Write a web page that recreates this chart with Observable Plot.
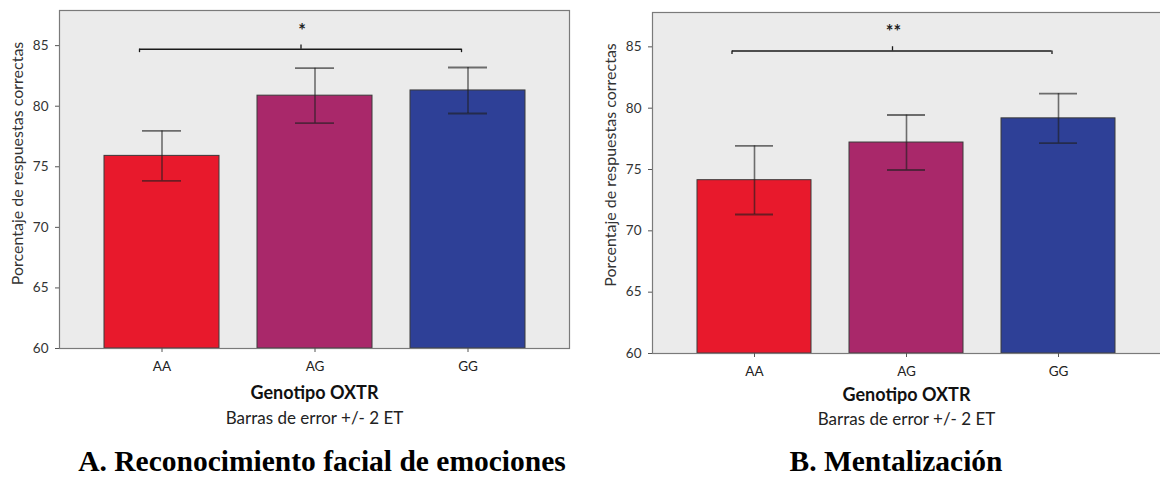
<!DOCTYPE html>
<html>
<head>
<meta charset="utf-8">
<script src="https://cdn.jsdelivr.net/npm/d3@7"></script>
<script src="https://cdn.jsdelivr.net/npm/@observablehq/plot@0.6"></script>
<style>
  body { margin: 0; background: #fff; overflow: hidden; }
  #fig { display: flex; width: 1160px; }
  .panel { width: 580px; flex: none; }
  .panel svg { display: block; overflow: hidden; }
  .cap {
    font-family: "Liberation Serif", "Times New Roman", serif;
    font-weight: bold;
    font-size: 29.5px;
    line-height: 34px;
    text-align: center;
    color: #000;
    margin-top: 4px;
    white-space: nowrap;
  }
</style>
</head>
<body>
<div id="fig"></div>
<script>
// Genotipos OXTR y colores de cada barra
const genotipos = ["AA", "AG", "GG"];
const colores = ["#e8192c", "#a9286a", "#2e4097"];

// A. Reconocimiento facial de emociones: media y ±2 ET
const reconocimientoMedia = [75.9, 80.87, 81.3];
const reconocimientoET2 = [2.06, 2.27, 1.9];

// B. Mentalización: media y ±2 ET
const mentalizacionMedia = [74.13, 77.2, 79.17];
const mentalizacionET2 = [2.8, 2.24, 2.02];

// Comparación AA vs GG (altura de la llave y marca de significación)
const sigReconocimiento = {y: 84.7, text: "*"};
const sigMentalizacion = {y: 84.66, text: "**"};

const yTicks = [60, 65, 70, 75, 80, 85];
const yLabel = "Porcentaje de respuestas correctas";
const xLabel = "Genotipo OXTR";
const nota = "Barras de error +/- 2 ET";

const font = "Lato, 'Open Sans', sans-serif";

function panel({media, et2, sig, yMax, margins, frameExtend, yLabelDy, xLabelDy, notaDy}) {
  const rows = genotipos.map((g, i) => ({
    g, media: media[i], lo: media[i] - et2[i], hi: media[i] + et2[i]
  }));
  const y0 = yTicks[0];
  const first = () => genotipos[0];
  const mid = () => genotipos[1];
  const last = () => genotipos[genotipos.length - 1];
  const bracket = {stroke: "#1a1a1a", strokeWidth: 1.3};
  const err = {stroke: "#1e1e1e", strokeOpacity: 0.62};

  return Plot.plot({
    width: 580,
    height: 440,
    ...margins,
    style: {fontFamily: font, fontSize: "13.5px", color: "#333", background: "transparent"},
    x: {domain: genotipos, paddingInner: 0.25, paddingOuter: 0.29, axis: null},
    y: {domain: [y0, yMax], axis: null},
    color: {domain: genotipos, range: colores},
    marks: [
      // fondo gris del área de trazado
      Plot.frame({fill: "#ebebeb", insetRight: -frameExtend}),
      // barras de medias
      Plot.barY(rows, {x: "g", y1: y0, y2: "media", fill: "g", stroke: "#3a3a3a", strokeWidth: 1}),
      // barras de error ±2 ET
      Plot.ruleX(rows, {x: "g", y1: "lo", y2: "hi", ...err, strokeWidth: 1.6}),
      Plot.tickY(rows, {x: "g", y: "lo", ...err, strokeWidth: 1.9, insetLeft: 38, insetRight: 38}),
      Plot.tickY(rows, {x: "g", y: "hi", ...err, strokeWidth: 1.9, insetLeft: 38, insetRight: 38}),
      // borde del área de trazado
      Plot.frame({stroke: "#7a7a7a", strokeWidth: 1.2, insetRight: -frameExtend}),
      // ejes
      Plot.axisY({ticks: yTicks, tickSize: 4, tickPadding: 7, label: null, stroke: "#555", fill: "#333"}),
      Plot.axisX({tickSize: 4, tickPadding: 9, label: null, stroke: "#555", fill: "#222"}),
      Plot.text([yLabel], {
        frameAnchor: "left", textAnchor: "middle", lineAnchor: "middle", rotate: -90, dx: -42, dy: yLabelDy,
        fontSize: 16, fill: "#333", text: d => d
      }),
      Plot.text([xLabel], {frameAnchor: "bottom", lineAnchor: "middle", dy: xLabelDy, fontSize: 18, fontWeight: "bold", fill: "#111", text: d => d}),
      Plot.text([nota], {frameAnchor: "bottom", lineAnchor: "middle", dy: notaDy, fontSize: 17, fill: "#222", text: d => d}),
      // llave de comparación AA–GG
      Plot.ruleY([sig], {x1: first, x2: last, y: "y", insetLeft: 35, insetRight: 63.5, ...bracket}),
      Plot.ruleX([sig], {x: first, y1: d => d.y - 0.28, y2: "y", dx: -22.5, ...bracket}),
      Plot.ruleX([sig], {x: last, y1: d => d.y - 0.28, y2: "y", dx: -6.5, ...bracket}),
      Plot.ruleX([sig], {x: mid, y1: "y", y2: d => d.y + 0.35, dx: -14, ...bracket}),
      Plot.text([sig], {x: mid, y: d => d.y + 1.5, dx: -13, text: "text", fontSize: 18, fontWeight: "bold", fill: "#222"})
    ]
  });
}

const fig = document.getElementById("fig");

function addPanel(svg, caption, capShift) {
  const div = document.createElement("div");
  div.className = "panel";
  div.appendChild(svg);
  const cap = document.createElement("div");
  cap.className = "cap";
  cap.textContent = caption;
  if (capShift) cap.style.transform = `translateX(${capShift}px)`;
  div.appendChild(cap);
  fig.appendChild(div);
}

addPanel(panel({
  media: reconocimientoMedia,
  et2: reconocimientoET2,
  sig: sigReconocimiento,
  yMax: 87.9,
  margins: {marginLeft: 59, marginRight: 11, marginTop: 10, marginBottom: 92},
  frameExtend: 0,
  yLabelDy: -16,
  xLabelDy: 45,
  notaDy: 70
}), "A. Reconocimiento facial de emociones", 32);

addPanel(panel({
  media: mentalizacionMedia,
  et2: mentalizacionET2,
  sig: sigMentalizacion,
  yMax: 87.8,
  margins: {marginLeft: 72, marginRight: 0, marginTop: 12, marginBottom: 87},
  frameExtend: 4,
  yLabelDy: -18,
  xLabelDy: 42,
  notaDy: 66
}), "B. Mentalización", 26);
</script>
</body>
</html>
